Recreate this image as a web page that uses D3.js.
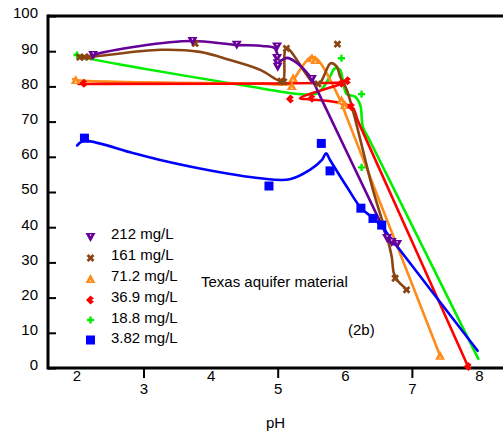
<!DOCTYPE html>
<html><head><meta charset="utf-8">
<script src="https://cdn.jsdelivr.net/npm/d3@7"></script>
<style>
body{margin:0;background:#fff;}
text{font-family:"Liberation Sans",Arial,sans-serif;font-size:15px;fill:#000;}
</style>
</head><body>
<svg id="chart" width="503" height="438"></svg>
<script>
// ---- data ----
const seriesLabels = ["212 mg/L", "161 mg/L", "71.2 mg/L", "36.9 mg/L", "18.8 mg/L", "3.82 mg/L"];
const xTicksUpper = [2, 4, 6, 8];
const xTicksLower = [3, 5, 7];
const yTicks = [0, 10, 20, 30, 40, 50, 60, 70, 80, 90, 100];

// measured points [pH, value]
const pts212 = [[2.25,88.9],[3.73,92.9],[4.39,91.8],[4.99,91.3],[4.99,88.1],[5.00,86.6],[5.00,85.6],[5.51,82.1],[6.63,36.9],[6.70,35.8],[6.78,35.2]];
const pts161 = [[2.05,88.3],[2.12,88.3],[2.19,88.4],[3.77,92.2],[5.05,81.5],[5.09,81.3],[5.13,90.8],[5.60,80.7],[5.89,92.0],[6.75,25.5],[6.92,22.2]];
const pts71  = [[1.99,81.8],[5.21,80.1],[5.23,82.3],[5.51,88.0],[5.56,87.5],[5.95,76.1],[6.00,74.7],[7.42,3.5]];
const pts36  = [[2.11,80.9],[5.19,76.4],[5.51,76.6],[5.95,80.9],[6.04,81.6],[6.10,74.2],[7.84,0.4]];
const pts18  = [[2.01,88.9],[5.95,88.0],[6.25,77.8],[6.25,57.0]];
const pts3   = [[2.12,65.3],[4.87,51.7],[5.65,63.8],[5.78,56.0],[6.24,45.4],[6.42,42.5],[6.55,40.6]];

// fitted curves [pH, value]
const fit212 = [[2.17,88.1],[2.25,88.9],[2.95,91.5],[3.72,92.9],[4.38,91.8],[4.77,91.5],[4.95,90.9],[5.00,88.6],[5.00,86.9],[5.14,88.1],[5.29,86.6],[5.44,83.8],[5.51,82.1],[5.61,78.1],[6.57,39.8],[6.67,35.8],[6.78,34.9]];
const fit161 = [[2.05,88.4],[2.19,88.4],[3.25,90.4],[3.84,89.8],[4.29,87.5],[4.74,84.7],[5.00,81.8],[5.08,81.5],[5.13,90.8],[5.59,80.4],[5.79,86.6],[5.88,85.6],[5.93,82.8],[6.03,79.0],[6.42,50.6],[6.63,37.2],[6.70,31.5],[6.73,27.0],[6.78,25.0],[6.93,22.2]];
const fit71  = [[1.95,82.1],[1.99,81.8],[4.74,80.8],[5.18,80.7],[5.23,81.8],[5.50,88.4],[5.60,87.5],[5.93,76.1],[6.03,71.2],[7.42,3.5]];
const fit36  = [[2.03,80.7],[2.12,80.7],[5.93,81.1],[6.03,81.3],[5.33,76.6],[5.51,76.3],[6.10,74.2],[6.20,70.0],[7.84,0.3]];
const fit18  = [[1.99,89.2],[2.05,88.6],[4.74,79.5],[5.33,77.8],[5.58,78.0],[5.67,79.5],[5.78,82.8],[5.85,85.1],[5.93,84.7],[5.97,81.8],[6.03,77.8],[6.15,77.1],[6.23,74.7],[6.27,68.5],[6.37,64.7],[7.99,2.6]];
const fit3   = [[2.01,63.2],[2.11,64.5],[2.84,61.1],[3.25,59.1],[3.84,56.7],[4.74,53.9],[5.18,53.6],[5.48,56.3],[5.66,59.1],[5.72,61.0],[5.78,59.1],[6.03,51.5],[6.24,45.5],[6.42,42.6],[6.55,40.3],[6.65,37.8],[7.98,4.9]];

const allPts = [pts212, pts161, pts71, pts36, pts18, pts3];
const allFits = [fit212, fit161, fit71, fit36, fit18, fit3];

// ---- styles ----
const colors = ["#660099", "#8B4513", "#FF8C1A", "#FF0000", "#00EE00", "#0000FF"];
const markerKinds = ["tridown", "x", "triup", "chev", "plus", "square"];
const drawOrder = [4, 2, 3, 1, 0, 5];

const svg = d3.select("#chart");
const x = d3.scaleLinear().domain([2, 8]).range([76.4, 479]);
const y = d3.scaleLinear().domain([0, 100]).range([368, 16]);
const left = 48, right = 503;
const fontFam = "Liberation Sans, Arial, sans-serif";

// frame lines
svg.append("line").attr("x1", left).attr("x2", right).attr("y1", y(100)).attr("y2", y(100))
  .attr("stroke", "#000").attr("stroke-width", 3);
svg.append("line").attr("x1", left).attr("x2", right).attr("y1", y(0)).attr("y2", y(0))
  .attr("stroke", "#000").attr("stroke-width", 3);
svg.append("line").attr("x1", left).attr("x2", left).attr("y1", y(100) - 1.5).attr("y2", y(0) + 1.5)
  .attr("stroke", "#000").attr("stroke-width", 3);

// y axis
const gy = svg.append("g").attr("transform", `translate(${left},0)`)
  .call(d3.axisLeft(y).tickValues(yTicks).tickFormat(d3.format("d")).tickSizeInner(-8).tickSizeOuter(0).tickPadding(10));
gy.select(".domain").remove();
gy.selectAll(".tick line").attr("stroke", "#000").attr("stroke-width", 2);
gy.selectAll(".tick text").attr("dy", "0.12em").style("font-size", "15px").style("font-family", fontFam);

// x axis upper labels
const gx1 = svg.append("g").attr("transform", `translate(0,${y(0)})`)
  .call(d3.axisBottom(x).tickValues(xTicksUpper).tickFormat(d3.format("d")).tickSize(0).tickPadding(2));
gx1.select(".domain").remove();
gx1.selectAll(".tick text").style("font-size", "15px").style("font-family", fontFam);

// x axis lower labels
const gx2 = svg.append("g").attr("transform", `translate(0,${y(0)})`)
  .call(d3.axisBottom(x).tickValues(xTicksLower).tickFormat(d3.format("d")).tickSize(10).tickPadding(5));
gx2.select(".domain").remove();
gx2.selectAll(".tick line").attr("stroke", "#000").attr("stroke-width", 2);
gx2.selectAll(".tick text").style("font-size", "15px").style("font-family", fontFam);

// marker drawing
function marker(g, kind, color) {
  if (kind === "tridown") {
    g.append("path").attr("d", "M-5,-4 L5,-4 L0,5 Z").attr("fill", color);
    g.append("path").attr("d", "M-1,-2.6 L1,-2.6 L0,-0.8 Z").attr("fill", "#fff");
  } else if (kind === "triup") {
    g.append("path").attr("d", "M-5,4 L5,4 L0,-5 Z").attr("fill", color);
    g.append("path").attr("d", "M-1,2.6 L1,2.6 L0,0.8 Z").attr("fill", "#fff");
  } else if (kind === "x") {
    g.append("path").attr("d", d3.symbol().type(d3.symbolCross).size(38)()).attr("fill", color).attr("transform", "rotate(45)");
  } else if (kind === "plus") {
    g.append("path").attr("d", d3.symbol().type(d3.symbolCross).size(28)()).attr("fill", color);
  } else if (kind === "chev") {
    g.append("path").attr("d", "M-4.5,0 L0,-4.5 L3.5,-1.5 L1,0 L3.5,1.5 L0,4.5 Z").attr("fill", color);
  } else if (kind === "square") {
    g.append("rect").attr("x", -4.5).attr("y", -4.5).attr("width", 9).attr("height", 9).attr("fill", color);
  }
}

const line = d3.line().x(d => x(d[0])).y(d => y(d[1])).curve(d3.curveCatmullRom.alpha(0.5));

drawOrder.forEach(i => {
  svg.append("path").datum(allFits[i]).attr("d", line)
    .attr("fill", "none").attr("stroke", colors[i]).attr("stroke-width", 2.6)
    .attr("stroke-linejoin", "round").attr("stroke-linecap", "round");
});
drawOrder.forEach(i => {
  allPts[i].forEach(p => {
    const g = svg.append("g").attr("transform", `translate(${x(p[0])},${y(p[1])})`);
    marker(g, markerKinds[i], colors[i]);
  });
});

// legend
const legendMarkerY = [237, 258, 279, 300, 320, 340];
const legendTextY = [239, 260, 281, 301.5, 322.5, 342.5];
seriesLabels.forEach((lab, i) => {
  const g = svg.append("g").attr("transform", `translate(90.5,${legendMarkerY[i]})`);
  marker(g, markerKinds[i], colors[i]);
  svg.append("text").attr("x", 111).attr("y", legendTextY[i]).text(lab);
});

// annotations
svg.append("text").attr("x", 201).attr("y", 287).text("Texas aquifer material");
svg.append("text").attr("x", 348).attr("y", 335).text("(2b)");
svg.append("text").attr("x", 266).attr("y", 428).text("pH");
</script>
</body></html>
